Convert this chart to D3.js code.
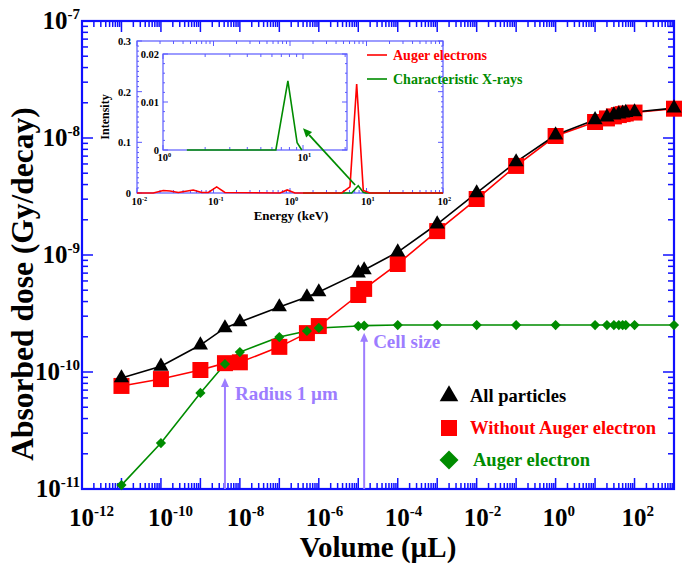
<!DOCTYPE html>
<html><head><meta charset="utf-8">
<script src="https://cdn.jsdelivr.net/npm/d3@7/dist/d3.min.js"></script>
<style>
body{margin:0;background:#fff}
svg{display:block}
text{font-family:"Liberation Serif","Times New Roman",serif;font-weight:bold}
</style>
</head><body>
<svg id="chart" width="685" height="567"></svg>
<script>
// ---------- main chart data ----------
const volume = [1e-11,1e-10,1e-9,4.19e-9,1e-8,1e-7,5e-7,1e-6,1e-5,1.41e-5,1e-4,1e-3,1e-2,1e-1,1,10,20,30,40,50,60,100,1000];
const allParticles = [8.9e-11,1.12e-10,1.70e-10,2.38e-10,2.68e-10,3.60e-10,4.38e-10,4.83e-10,7.0e-10,7.45e-10,1.06e-9,1.84e-9,3.39e-9,6.24e-9,1.06e-8,1.43e-8,1.51e-8,1.57e-8,1.60e-8,1.63e-8,1.65e-8,1.67e-8,1.80e-8];
const withoutAuger = [7.6e-11,8.7e-11,1.04e-10,1.19e-10,1.21e-10,1.64e-10,2.15e-10,2.47e-10,4.55e-10,5.13e-10,8.38e-10,1.60e-9,3.01e-9,5.77e-9,1.04e-8,1.37e-8,1.47e-8,1.53e-8,1.57e-8,1.60e-8,1.62e-8,1.65e-8,1.78e-8];
const augerElectron = [1.08e-11,2.47e-11,6.62e-11,1.17e-10,1.48e-10,1.99e-10,2.24e-10,2.38e-10,2.47e-10,2.49e-10,2.52e-10,2.52e-10,2.52e-10,2.52e-10,2.52e-10,2.52e-10,2.52e-10,2.52e-10,2.52e-10,2.52e-10,2.52e-10,2.52e-10,2.52e-10];
const seriesNames = ["All particles","Without Auger electron","Auger electron"];
const xTickExps = [-12,-10,-8,-6,-4,-2,0,2];
const yTickExps = [-11,-10,-9,-8,-7];
const annotations = [
  {label:"Radius 1 \u00b5m", x:4.19e-9, tip:8.9e-11},
  {label:"Cell size", x:1.41e-5, tip:2.16e-10}
];
// ---------- inset data ----------
const augerEnergy = [0.01,0.0163,0.022,0.027,0.0347,0.0544,0.070,0.0856,0.110,0.141,0.74,0.92,1.16,4.74,6.08,7.44,9.08,11.1,100];
const augerIntensity = [0,0,0.005,0.004,0.001,0.006,0.001,0.001,0.012,0.001,0,0.006,0,0,0.012,0.215,0.005,0,0];
const xrayEnergy = [1.48,6.4,7.8,9.08,9.8,100];
const xrayIntensity = [0,0,0.0144,0.0015,0,0];
const insetYTicks = [0,0.1,0.2,0.3];
const insetXTickExps = [-2,-1,0,1,2];
const subYTicks = [0,0.01,0.02];
const subXTickExps = [0,1];
const insetLegend = ["Auger electrons","Characteristic X-rays"];
const insetArrow = {from:[7.1,0.0158], to:[1.48,0.128]};

const BLUE = "#1010ff", RED = "#ff0000", GREEN = "#008c00", PURPLE = "#9d7dff";
const svg = d3.select("#chart");

// ---------- scales ----------
const x = d3.scaleLog().domain([1e-12,1e3]).range([82,674]);
const y = d3.scaleLog().domain([1e-11,1e-7]).range([489,21]);

function supText(g, px, py, exp, size, anchor, fill){
  const t = g.append("text").attr("x",px).attr("y",py).attr("font-size",size)
    .attr("text-anchor",anchor).attr("fill",fill||"#000");
  t.append("tspan").text("10");
  t.append("tspan").attr("dy",-size*0.42).attr("font-size",size*0.6).text(exp);
  return t;
}

// ---------- main axes frame & ticks ----------
const axG = svg.append("g");
function logTicks(d0,d1){const a=[];for(let e=d0;e<d1;e++){for(let k=1;k<10;k++)a.push({v:k*Math.pow(10,e),major:k===1});}a.push({v:Math.pow(10,d1),major:true});return a;}
const xt = logTicks(-12,3), yt = logTicks(-11,-7);
const [X0,X1] = x.range(), [Y0,Y1] = y.range();
xt.forEach(t=>{
  const px=x(t.v), L=t.major?11:6;
  axG.append("line").attr("x1",px).attr("x2",px).attr("y1",Y0).attr("y2",Y0-L).attr("stroke",BLUE).attr("stroke-width",1.5);
  axG.append("line").attr("x1",px).attr("x2",px).attr("y1",Y1).attr("y2",Y1+L).attr("stroke",BLUE).attr("stroke-width",1.5);
});
yt.forEach(t=>{
  const py=y(t.v), L=t.major?11:6;
  axG.append("line").attr("x1",X0).attr("x2",X0+L).attr("y1",py).attr("y2",py).attr("stroke",BLUE).attr("stroke-width",1.5);
  axG.append("line").attr("x1",X1).attr("x2",X1-L).attr("y1",py).attr("y2",py).attr("stroke",BLUE).attr("stroke-width",1.5);
});
axG.append("rect").attr("x",X0).attr("y",Y1).attr("width",X1-X0).attr("height",Y0-Y1)
  .attr("fill","none").attr("stroke",BLUE).attr("stroke-width",2.2);

xTickExps.forEach(e=>{ supText(svg, x(Math.pow(10,e))-13, 526, e, 25, "start"); });
yTickExps.forEach(e=>{ supText(svg, 80, y(Math.pow(10,e))+8, e, 25, "end"); });

svg.append("text").attr("x",378).attr("y",557).attr("font-size",29).attr("text-anchor","middle").text("Volume (\u00b5L)");
svg.append("text").attr("transform","translate(33,284) rotate(-90)").attr("font-size",31.5).attr("text-anchor","middle").text("Absorbed dose (Gy/decay)");

// ---------- annotations ----------
annotations.forEach((a,i)=>{
  const px=x(a.x), tipY=y(a.tip);
  svg.append("line").attr("x1",px).attr("x2",px).attr("y1",Y0).attr("y2",tipY+6).attr("stroke",PURPLE).attr("stroke-width",2);
  svg.append("path").attr("d",`M${px},${tipY} L${px-4},${tipY+9} L${px+4},${tipY+9} Z`).attr("fill",PURPLE);
  svg.append("text").attr("x",px+(i===0?10:9)).attr("y",tipY+(i===0?22:15)).attr("font-size",19).attr("fill",PURPLE).text(a.label);
});

// ---------- series ----------
const line = d3.line().x(d=>x(d[0])).y(d=>y(d[1]));
const series = [
  {vals:withoutAuger, color:RED, sym:"square"},
  {vals:allParticles, color:"#000", sym:"triangle"},
  {vals:augerElectron, color:GREEN, sym:"diamond"}
];
const symPath = {
  square: d3.symbol().type(d3.symbolSquare).size(256)(),
  triangle: d3.symbol().type(d3.symbolTriangle).size(100)(),
  diamond: d3.symbol().type(d3.symbolSquare).size(52)()
};
series.forEach(s=>{
  const pts = volume.map((v,i)=>[v,s.vals[i]]);
  svg.append("path").attr("d",line(pts)).attr("fill","none").attr("stroke",s.color).attr("stroke-width",1.6);
});
series.forEach(s=>{
  const pts = volume.map((v,i)=>[v,s.vals[i]]);
  svg.append("g").selectAll("path").data(pts).join("path")
    .attr("d",symPath[s.sym]).attr("fill",s.color)
    .attr("transform",d=>`translate(${x(d[0])},${y(d[1])})`+(s.sym==="diamond"?" rotate(45)":""));
});

// ---------- legend ----------
const legSym = [
  {p:d3.symbol().type(d3.symbolTriangle).size(150)(), c:"#000", rot:0},
  {p:d3.symbol().type(d3.symbolSquare).size(256)(), c:RED, rot:0},
  {p:d3.symbol().type(d3.symbolSquare).size(180)(), c:GREEN, rot:45}
];
seriesNames.forEach((n,i)=>{
  const cy = 396 + i*32;
  svg.append("path").attr("d",legSym[i].p).attr("fill",legSym[i].c)
    .attr("transform",`translate(449,${cy}) rotate(${legSym[i].rot})`);
  svg.append("text").attr("x",i===2?473:470).attr("y",cy+6).attr("font-size",18.5)
    .attr("fill",i===0?"#000":legSym[i].c).text(n);
});

// ---------- inset ----------
const ix = d3.scaleLog().domain([0.01,100]).range([137,443]);
const iy = d3.scaleLinear().domain([0,0.3]).range([193,41]);
const inset = svg.append("g");
inset.append("rect").attr("x",137).attr("y",41).attr("width",443-137).attr("height",193-41).attr("fill","#fff");
const IB = "#5a5aff";
logTicks(-2,2).forEach(t=>{
  const px=ix(t.v), L=t.major?5:3;
  inset.append("line").attr("x1",px).attr("x2",px).attr("y1",193).attr("y2",193-L).attr("stroke",IB);
  inset.append("line").attr("x1",px).attr("x2",px).attr("y1",41).attr("y2",41+L).attr("stroke",IB);
});
d3.range(0,0.3001,0.01).forEach(v=>{
  const py=iy(v), maj=Math.abs(v*10-Math.round(v*10))<1e-6, L=maj?5:2;
  inset.append("line").attr("x1",137).attr("x2",137+L).attr("y1",py).attr("y2",py).attr("stroke",IB);
  inset.append("line").attr("x1",443).attr("x2",443-L).attr("y1",py).attr("y2",py).attr("stroke",IB);
});
inset.append("rect").attr("x",137).attr("y",41).attr("width",443-137).attr("height",193-41).attr("fill","none").attr("stroke",IB).attr("stroke-width",1.2);
insetYTicks.forEach(v=>{
  inset.append("text").attr("x",131).attr("y",iy(v)+4).attr("font-size",10.5).attr("text-anchor","end").text(v===0?"0":v.toFixed(1));
});
insetXTickExps.forEach(e=>{ supText(inset, ix(Math.pow(10,e))-5.5, 205, e, 10.5, "start"); });
inset.append("text").attr("x",291).attr("y",220).attr("font-size",13).attr("text-anchor","middle").text("Energy (keV)");
inset.append("text").attr("transform","translate(109,117) rotate(-90)").attr("font-size",12).attr("text-anchor","middle").text("Intensity");

const iline = d3.line().x(d=>ix(d[0])).y(d=>iy(d[1]));
inset.append("path").attr("d",iline(xrayEnergy.map((e,i)=>[e,xrayIntensity[i]]))).attr("fill","none").attr("stroke",GREEN).attr("stroke-width",1.6);
inset.append("path").attr("d",iline(augerEnergy.map((e,i)=>[e,augerIntensity[i]]))).attr("fill","none").attr("stroke",RED).attr("stroke-width",1.6);

insetLegend.forEach((n,i)=>{
  const ly = 55 + i*24, c = i===0?RED:GREEN;
  inset.append("line").attr("x1",367).attr("x2",387).attr("y1",ly).attr("y2",ly).attr("stroke",c).attr("stroke-width",1.6);
  inset.append("text").attr("x",393).attr("y",ly+4.5).attr("font-size",14).attr("fill",c).text(n);
});

// sub-inset
const sx = d3.scaleLog().domain([1,10]).range([163,303]);
const sy = d3.scaleLinear().domain([0,0.02]).range([150,54]);
const SX1 = 347;
const sub = inset.append("g");
sub.append("rect").attr("x",163).attr("y",54).attr("width",SX1-163).attr("height",96).attr("fill","#fff");
[1,2,3,4,5,6,7,8,9,10,20].forEach(v=>{
  const px=sx(v), L=(v===1||v===10)?5:3;
  if(px>SX1) return;
  sub.append("line").attr("x1",px).attr("x2",px).attr("y1",150).attr("y2",150-L).attr("stroke",IB);
  sub.append("line").attr("x1",px).attr("x2",px).attr("y1",54).attr("y2",54+L).attr("stroke",IB);
});
d3.range(0,0.02001,0.002).forEach(v=>{
  const py=sy(v), maj=Math.abs(v*100-Math.round(v*100))<1e-6, L=maj?5:2;
  sub.append("line").attr("x1",163).attr("x2",163+L).attr("y1",py).attr("y2",py).attr("stroke",IB);
  sub.append("line").attr("x1",SX1).attr("x2",SX1-L).attr("y1",py).attr("y2",py).attr("stroke",IB);
});
sub.append("rect").attr("x",163).attr("y",54).attr("width",SX1-163).attr("height",96).attr("fill","none").attr("stroke",IB).attr("stroke-width",1.2);
const sline = d3.line().x(d=>sx(d[0])).y(d=>sy(d[1]));
sub.append("path").attr("d",sline(xrayEnergy.map((e,i)=>[e,xrayIntensity[i]]).filter(d=>d[0]<=10)))
  .attr("fill","none").attr("stroke",GREEN).attr("stroke-width",1.6);
subYTicks.forEach(v=>{
  sub.append("text").attr("x",159).attr("y",sy(v)+4).attr("font-size",10.5).attr("text-anchor","end").text(v===0?"0":v.toFixed(2));
});
subXTickExps.forEach(e=>{ supText(sub, sx(Math.pow(10,e))-5.5, 161, e, 10.5, "start"); });

// green arrow
const a0=[ix(insetArrow.from[0]),iy(insetArrow.from[1])], a1=[ix(insetArrow.to[0]),iy(insetArrow.to[1])];
const ang=Math.atan2(a1[1]-a0[1],a1[0]-a0[0]);
const hb=[a1[0]-9*Math.cos(ang),a1[1]-9*Math.sin(ang)];
inset.append("line").attr("x1",a0[0]).attr("y1",a0[1]).attr("x2",hb[0]).attr("y2",hb[1]).attr("stroke",GREEN).attr("stroke-width",1.8);
inset.append("path").attr("d",`M${a1[0]},${a1[1]} L${hb[0]+4*Math.sin(ang)},${hb[1]-4*Math.cos(ang)} L${hb[0]-4*Math.sin(ang)},${hb[1]+4*Math.cos(ang)} Z`).attr("fill",GREEN);
</script>
</body></html>
